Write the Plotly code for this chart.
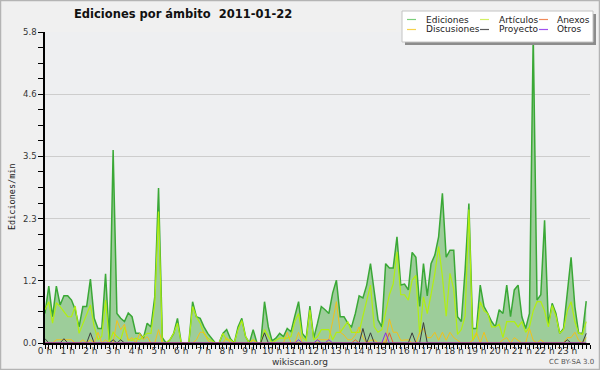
import plotly.graph_objects as go

# ---------------- data (10-minute steps, 144 points) ----------------
ediciones = [0.55,1.06,0.49,1.06,0.71,0.88,0.88,0.80,0.62,0.30,0.68,0.68,1.19,0.46,0.27,0.27,1.29,0.05,3.60,0.55,
             0.46,0.40,0.56,0.49,0.18,0.18,0.09,0.37,0.30,0.86,2.89,0.10,0.00,0.06,0.18,0.46,0.00,0.00,0.00,0.77,
             0.49,0.46,0.30,0.18,0.09,0.00,0.00,0.18,0.25,0.08,0.00,0.30,0.46,0.12,0.00,0.25,0.00,0.00,0.77,0.30,
             0.04,0.09,0.18,0.12,0.27,0.21,0.50,0.77,0.18,0.09,0.69,0.09,0.37,0.68,0.62,0.55,0.93,1.17,0.49,0.49,
             0.37,0.30,0.55,0.88,0.84,1.08,1.48,0.99,0.43,0.30,1.48,1.40,1.40,1.98,1.08,1.10,0.99,1.69,1.60,0.68,
             1.48,0.88,1.48,1.64,1.98,2.79,1.60,1.73,1.73,0.49,0.40,1.36,2.60,0.27,0.27,1.08,0.68,0.55,0.40,0.30,
             0.62,0.55,1.08,0.49,0.99,1.08,0.49,0.27,0.55,5.75,0.80,0.90,2.29,0.35,0.74,0.55,0.18,0.27,1.00,1.60,
             0.68,0.18,0.18,0.78]
articulos = [0.62,0.77,0.37,0.75,0.68,0.58,0.49,0.49,0.69,0.18,0.37,0.55,0.71,0.30,0.06,0.12,0.80,0.00,0.20,0.12,
             0.06,0.30,0.06,0.05,0.09,0.06,0.12,0.18,0.18,0.73,2.45,0.00,0.00,0.06,0.18,0.37,0.00,0.00,0.00,0.68,
             0.49,0.37,0.18,0.09,0.04,0.00,0.00,0.18,0.06,0.06,0.00,0.25,0.42,0.12,0.00,0.06,0.00,0.00,0.25,0.12,
             0.00,0.05,0.09,0.09,0.09,0.12,0.40,0.55,0.10,0.05,0.62,0.06,0.12,0.25,0.25,0.25,0.06,0.20,0.20,0.30,
             0.40,0.20,0.20,0.20,0.50,0.77,1.08,0.30,0.20,0.25,0.55,0.90,1.10,1.70,0.90,0.90,0.80,1.17,1.26,0.16,
             0.86,0.55,0.90,1.30,1.80,1.24,0.50,1.30,1.00,0.16,0.25,0.50,2.49,0.05,0.16,0.77,0.60,0.55,0.30,0.30,
             0.35,0.10,0.40,0.40,0.40,0.30,0.40,0.20,0.30,0.60,0.77,0.77,0.60,0.30,0.70,0.50,0.18,0.25,0.60,0.77,
             0.40,0.18,0.16,0.40]
discusiones = [0,0,0,0.06,0.06,0.06,0.06,0.06,0,0,0.06,0,0.06,0,0.20,0,0.06,0,0,0.42,
               0.25,0.35,0.05,0.10,0,0.18,0.06,0.12,0,0,0.25,0,0,0,0,0,0,0,0,0,
               0.06,0.20,0.20,0.05,0,0,0,0,0.10,0,0,0,0,0,0,0.06,0,0,0,0,
               0,0,0,0,0.20,0,0,0.20,0,0,0,0,0.06,0.06,0.06,0.06,0.40,0.77,0.20,0.15,
               0.06,0.06,0.15,0.30,0.10,0,0.05,0.06,0,0,0.05,0.45,0.20,0.20,0.05,0.05,0.06,0,0,0.20,
               0.27,0.10,0.10,0.20,0.05,0.20,0.05,0.20,0.10,0.05,0,0,0,0.05,0.20,0,0.20,0,0,0,
               0,0.06,0.10,0,0.10,0.05,0,0,0.27,0.05,0,0.06,0,0,0,0,0,0,0.10,0.10,
               0.20,0.05,0,0.10]
proyecto = [0.08,0,0,0,0,0.08,0,0,0,0,0,0,0.19,0,0,0,0,0,0.06,0,
            0.06,0,0,0,0,0,0,0,0,0,0,0,0,0,0,0,0,0,0,0,
            0,0,0,0,0,0,0,0,0,0,0,0,0,0,0,0,0,0,0.19,0,
            0,0,0,0,0,0,0,0,0,0,0,0,0,0,0,0,0,0,0,0,
            0,0,0,0,0.27,0,0.19,0,0,0,0,0,0,0,0,0,0,0.19,0,0,
            0.38,0,0,0,0,0,0,0,0,0,0,0,0,0,0,0,0,0,0,0,
            0,0,0,0,0,0,0,0,0,0,0,0,0,0,0,0,0,0,0.06,0,
            0,0,0,0.18]
anexos = [0]*82 + [0.06] + [0]*8 + [0.19] + [0]*52
otros = [0]*67 + [0.06] + [0]*4 + [0.06] + [0]*2 + [0.06] + [0]*14 + [0.19] + [0]*53

step_hours = 1 / 6
times = [i * step_hours for i in range(len(ediciones))]

hour_ticks = list(range(24))
hour_labels = [f"{h} h" for h in hour_ticks]
y_ticks = [0, 1.16, 2.32, 3.48, 4.64, 5.8]
y_labels = ["0.0", "1.2", "2.3", "3.5", "4.6", "5.8"]

series_names = ["Ediciones", "Artículos", "Anexos", "Discusiones", "Proyecto", "Otros"]
series_colors = {"Ediciones": "#3aa836", "Artículos": "#b2ef10", "Anexos": "#e8602c",
                 "Discusiones": "#f2c11a", "Proyecto": "#3c3c3c", "Otros": "#8a2be2"}
legend_colors = {"Ediciones": "#7ccf7c", "Artículos": "#d2f064", "Anexos": "#f08a5a",
                 "Discusiones": "#f6d24e", "Proyecto": "#5a5a5a", "Otros": "#a052ee"}

# ---------------- figure ----------------
W, H = 600, 370
ML, MR, MT, MB = 45, 10, 32, 27
PW, PH = W - ML - MR, H - MT - MB

def px(x):
    return (x - ML) / PW

def py(y):
    return (H - MB - y) / PH

FONT = "DejaVu Sans"
fig = go.Figure()

fig.add_trace(go.Scatter(x=times, y=ediciones, mode="lines", name="Ediciones",
                         line=dict(color=series_colors["Ediciones"], width=1.5),
                         fill="tozeroy", fillcolor="#9dcd9a", hoverinfo="skip"))
for name, vals, w in [("Artículos", articulos, 1.2), ("Discusiones", discusiones, 1.0),
                      ("Proyecto", proyecto, 1.0), ("Anexos", anexos, 1.0), ("Otros", otros, 1.0)]:
    fig.add_trace(go.Scatter(x=times, y=vals, mode="lines", name=name,
                             line=dict(color=series_colors[name], width=w), hoverinfo="skip"))

shapes = []
annotations = []

# outer frame
shapes.append(dict(type="rect", xref="paper", yref="paper",
                   x0=px(0.5), x1=px(W - 0.5), y0=py(H - 0.5), y1=py(0.5),
                   line=dict(color="#b4b4b4", width=1.5), layer="below"))

# manual legend (shadow + box + samples + labels)
shapes.append(dict(type="rect", xref="paper", yref="paper",
                   x0=px(405), x1=px(596), y0=py(45), y1=py(14),
                   fillcolor="#8c8c8c", line=dict(width=0)))
shapes.append(dict(type="rect", xref="paper", yref="paper",
                   x0=px(402), x1=px(593), y0=py(42), y1=py(11),
                   fillcolor="white", line=dict(color="#c4c4c4", width=1)))
col_x = [(407, 424), (480, 497), (539, 555)]
row_y = [19.5, 29.5]
for k, name in enumerate(series_names):
    r, c = divmod(k, 3)
    sx, tx = col_x[c]
    yy = row_y[r]
    shapes.append(dict(type="line", xref="paper", yref="paper",
                       x0=px(sx), x1=px(sx + 9), y0=py(yy), y1=py(yy),
                       line=dict(color=legend_colors[name], width=1.2)))
    annotations.append(dict(text=name, xref="paper", yref="paper", x=px(tx), y=py(yy),
                            xanchor="left", yanchor="middle", showarrow=False,
                            font=dict(family=FONT, size=9, color="#222222")))

# title
annotations.append(dict(text="<b>Ediciones por ámbito  2011-01-22</b>", xref="paper", yref="paper",
                        x=px(183), y=py(14), xanchor="center", yanchor="middle", showarrow=False,
                        font=dict(family=FONT, size=11.5, color="#111111")))
# y axis title
annotations.append(dict(text="Ediciones/min", xref="paper", yref="paper",
                        x=px(12), y=py(197), xanchor="center", yanchor="middle", showarrow=False,
                        textangle=-90, font=dict(family="DejaVu Sans Mono", size=8.5, color="#222222")))
# footer texts
annotations.append(dict(text="wikiscan.org", xref="paper", yref="paper",
                        x=px(300), y=py(362), xanchor="center", yanchor="middle", showarrow=False,
                        font=dict(family=FONT, size=9, color="#333333")))
annotations.append(dict(text="CC BY-SA 3.0", xref="paper", yref="paper",
                        x=px(571), y=py(362), xanchor="center", yanchor="middle", showarrow=False,
                        font=dict(family=FONT, size=7, color="#555555")))

fig.update_layout(
    width=W, height=H, autosize=False,
    margin=dict(l=ML, r=MR, t=MT, b=MB, pad=0),
    paper_bgcolor="#f0f0f0", plot_bgcolor="#eeeff1",
    showlegend=False,
    shapes=shapes, annotations=annotations,
    font=dict(family=FONT, size=9, color="#333333"),
    hovermode=False,
)
fig.update_xaxes(range=[0, 24], tickvals=hour_ticks, ticktext=hour_labels,
                 ticks="outside", ticklen=4, tickwidth=1, tickcolor="black",
                 showline=True, linecolor="black", linewidth=1.5,
                 showgrid=False, zeroline=False, automargin=False,
                 ticklabelstandoff=-6,
                 tickfont=dict(family=FONT, size=9, color="#333333"),
                 minor=dict(dtick=step_hours, tick0=0, ticks="outside", ticklen=4,
                            tickwidth=1, tickcolor="black", showgrid=False))
fig.update_yaxes(range=[0, 5.8], tickvals=y_ticks, ticktext=y_labels,
                 ticks="outside", ticklen=5, tickwidth=1, tickcolor="black",
                 showline=True, linecolor="black", linewidth=1.5,
                 showgrid=True, gridcolor="#cdcdcd", gridwidth=1, zeroline=False,
                 automargin=False,
                 tickfont=dict(family=FONT, size=8.5, color="#333333"),
                 minor=dict(dtick=0.29, tick0=0, ticks="outside", ticklen=5,
                            tickwidth=1, tickcolor="black", showgrid=False))

fig.write_html("out.html", config={"displayModeBar": False},
               post_script="document.body.style.margin='0px';document.body.style.padding='0px';document.body.style.overflow='hidden';")
